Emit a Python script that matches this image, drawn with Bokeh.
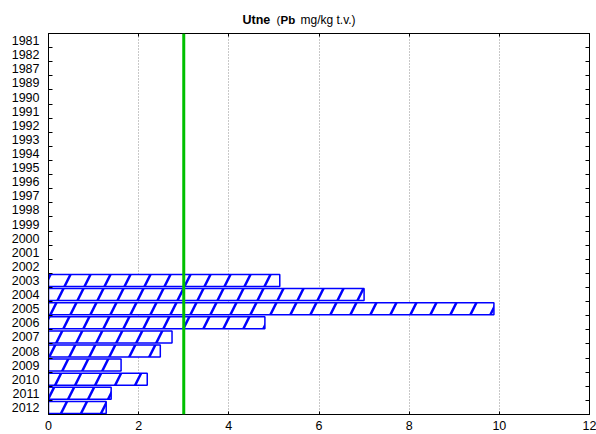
from bokeh.plotting import figure
from bokeh.layouts import column
from bokeh.models import Range1d, FixedTicker, LinearAxis, Span, Label, ColumnDataSource
from bokeh.embed import file_html
from bokeh.resources import INLINE

years = ["1981", "1982", "1987", "1989", "1990", "1991", "1992", "1993", "1994",
         "1995", "1996", "1997", "1998", "1999", "2000", "2001", "2002", "2003",
         "2004", "2005", "2006", "2007", "2008", "2009", "2010", "2011", "2012"]
bar_years = ["2003", "2004", "2005", "2006", "2007", "2008", "2009", "2010", "2011", "2012"]
bar_values = [5.13, 7.0, 9.88, 4.8, 2.74, 2.48, 1.61, 2.19, 1.39, 1.28]
limit_value = 3.0
x_ticks = [0, 2, 4, 6, 8, 10, 12]

FONT = "Liberation Sans"
n = len(years)
positions = list(range(n))
bar_pos = [years.index(y) for y in bar_years]

W, H = 596, 434
TH = 33          # title strip height
FL, FB = 48, 414  # frame left / bottom in page pixels

# ---- title strip (own small figure so the mixed-style text is not clipped)
t = figure(width=W, height=TH, output_backend="svg", toolbar_location=None,
           x_range=Range1d(0, 1), y_range=Range1d(0, 1),
           x_axis_location=None, y_axis_location=None,
           min_border_left=0, min_border_right=0, min_border_top=0, min_border_bottom=0)
t.outline_line_color = None
t.background_fill_color = "white"
t.border_fill_color = "white"
t.xgrid.grid_line_color = None
t.ygrid.grid_line_color = None
title_parts = [("Utne", "bold", "12.5px", 242), ("(", "normal", "11.5px", 276),
               ("Pb", "bold", "11.5px", 280), ("mg/kg t.v.)", "normal", "12px", 300)]
baseline = 19.5
for txt, style, size, px in title_parts:
    t.add_layout(Label(x=px - FL, y=TH - baseline, x_units="screen", y_units="screen", text=txt,
                       text_font=FONT, text_font_style=style,
                       text_font_size=size, text_color="black", text_baseline="alphabetic",
                       text_align="left"))

# ---- main chart
p = figure(width=W, height=H - TH, output_backend="svg", toolbar_location=None,
           x_range=Range1d(0, 12), y_range=Range1d(n - 0.5, -0.5),
           x_axis_location=None, y_axis_location=None,
           min_border_left=FL, min_border_right=7, min_border_top=0, min_border_bottom=H - FB)
p.background_fill_color = "white"
p.border_fill_color = "white"
p.outline_line_color = "black"
p.outline_line_width = 1

cat_ticker = FixedTicker(ticks=positions, minor_ticks=[i + 0.5 for i in range(n - 1)])
x_ticker = FixedTicker(ticks=x_ticks)

left = LinearAxis(ticker=cat_ticker)
left.major_label_overrides = {i: y for i, y in zip(positions, years)}
left.major_tick_in = 0
left.major_tick_out = 0
left.minor_tick_in = 4
left.minor_tick_out = 0
left.major_label_standoff = 9
left.major_label_text_font = FONT
left.major_label_text_font_size = "12.5px"
left.major_label_text_color = "black"
left.axis_line_color = "black"
p.add_layout(left, "left")

right = LinearAxis(ticker=cat_ticker)
right.major_label_overrides = {i: "" for i in positions}
right.major_label_text_font_size = "0px"
right.major_label_standoff = 0
right.major_tick_in = 0
right.major_tick_out = 0
right.minor_tick_in = 4
right.minor_tick_out = 0
right.axis_line_color = "black"
p.add_layout(right, "right")

bottom = LinearAxis(ticker=x_ticker)
bottom.major_tick_in = 3
bottom.major_tick_out = 0
bottom.minor_tick_line_color = None
bottom.major_label_standoff = 6
bottom.major_label_text_font = FONT
bottom.major_label_text_font_size = "12.5px"
bottom.major_label_text_color = "black"
bottom.axis_line_color = "black"
p.add_layout(bottom, "below")

top = LinearAxis(ticker=x_ticker)
top.major_label_overrides = {v: "" for v in x_ticks}
top.major_label_text_font_size = "0px"
top.major_label_standoff = 0
top.major_tick_in = 3
top.major_tick_out = 0
top.minor_tick_line_color = None
top.axis_line_color = "black"
p.add_layout(top, "above")

p.xgrid.ticker = x_ticker
p.xgrid.grid_line_color = "#909090"
p.xgrid.grid_line_dash = "1 2"
p.ygrid.grid_line_color = None

src = ColumnDataSource(dict(y=bar_pos, v=bar_values))
p.hbar(y="y", right="v", left=0, height=0.85, source=src,
       fill_color="white", line_color="#0000ff", line_width=1.5,
       hatch_pattern="/", hatch_color="#0000ff", hatch_weight=2.5, hatch_scale=40)

p.add_layout(Span(location=limit_value, dimension="height", line_color="#00c000", line_width=3))

layout = column(t, p, spacing=0)
open("out.html", "w").write(file_html(layout, INLINE))
